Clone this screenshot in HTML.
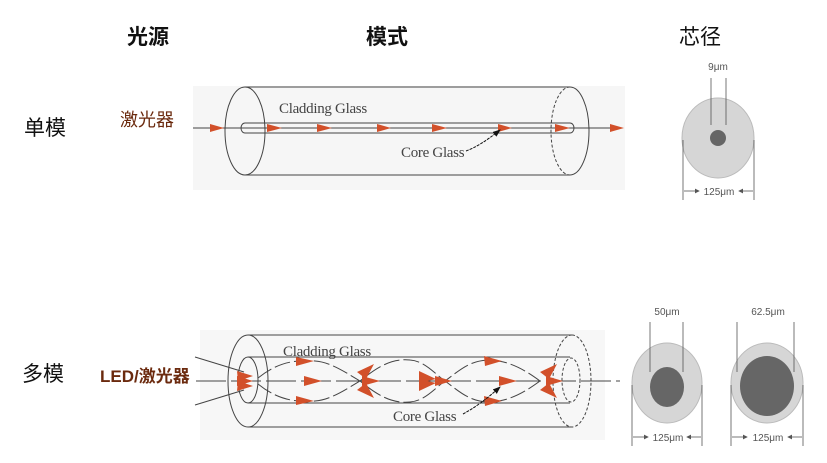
<!DOCTYPE html>
<html><head><meta charset="utf-8"><style>
html,body{margin:0;padding:0;background:#fff;}
svg{display:block;}
.h{font-family:"Liberation Sans","Noto Sans CJK SC",sans-serif;font-size:21px;fill:#111;}
.g{font-family:"Liberation Serif",serif;font-size:15px;fill:#444;letter-spacing:-0.3px;}
.m{font-family:"Liberation Sans",sans-serif;font-size:10px;fill:#555;}
</style></head><body>
<svg width="827" height="463" viewBox="0 0 827 463" xmlns="http://www.w3.org/2000/svg">
<defs>
<marker id="ah" markerWidth="8" markerHeight="6" refX="7" refY="3" orient="auto"><path d="M0,0 L8,3 L0,6z" fill="#111"/></marker>
<marker id="sa" markerWidth="6" markerHeight="6" refX="5" refY="3" orient="auto"><path d="M0,0 L6,3 L0,6z" fill="#555"/></marker>
</defs>
<rect width="827" height="463" fill="#fff"/>
<text class="h" x="127" y="44" font-weight="bold">光源</text>
<text class="h" x="366" y="44" font-weight="bold">模式</text>
<text class="h" x="679" y="44">芯径</text>
<text class="h" x="24" y="135">单模</text>
<text class="h" x="22" y="381">多模</text>
<text x="120" y="126" font-family="Liberation Sans,'Noto Sans CJK SC',sans-serif" font-size="18" fill="#6b2a0e">激光器</text>
<text x="100" y="382" font-family="Liberation Sans,'Noto Sans CJK SC',sans-serif" font-size="17" font-weight="bold" fill="#6b2a0e">LED/激光器</text>

<!-- top fiber -->
<rect x="193" y="86" width="432" height="104" fill="#f6f6f6"/>
<g fill="none" stroke="#444" stroke-width="1">
<ellipse cx="245" cy="131" rx="20" ry="44"/>
<line x1="245" y1="87" x2="570" y2="87"/><line x1="245" y1="175" x2="570" y2="175"/>
<path d="M570,87 A19,44 0 0 1 570,175"/>
<path d="M570,87 A19,44 0 0 0 570,175" stroke-dasharray="3,2"/>
<path d="M245,123 H570 A4,5 0 0 1 570,133 H245 A4,5 0 0 1 245,123z"/>
<line x1="193" y1="128" x2="620" y2="128"/>
</g>
<g fill="#d2502a">
<path d="M210,124 L224,128 L210,132z"/><path d="M267,124 L282,128 L267,132z"/><path d="M317,124 L332,128 L317,132z"/><path d="M377,124 L391,128 L377,132z"/><path d="M432,124 L447,128 L432,132z"/><path d="M498,124 L512,128 L498,132z"/><path d="M555,124 L570,128 L555,132z"/><path d="M610,124 L624,128 L610,132z"/>
</g>
<text class="g" x="279" y="113" style="font-stretch:condensed">Cladding Glass</text>
<text class="g" x="401" y="157">Core Glass</text>
<path d="M466,151 Q480,146 500,130" fill="none" stroke="#111" stroke-dasharray="3,1" marker-end="url(#ah)"/>

<!-- bottom fiber -->
<rect x="200" y="330" width="405" height="110" fill="#f7f7f7"/>
<g fill="none" stroke="#444" stroke-width="1">
<ellipse cx="248" cy="381" rx="20" ry="46"/>
<ellipse cx="248" cy="380" rx="10" ry="23"/>
<line x1="248" y1="335" x2="572" y2="335"/><line x1="248" y1="427" x2="572" y2="427"/>
<line x1="248" y1="357" x2="570" y2="357"/><line x1="248" y1="403" x2="570" y2="403"/>
<path d="M572,335 A19,46 0 0 1 572,427" stroke-dasharray="3,2"/>
<path d="M572,335 A19,46 0 0 0 572,427" stroke-dasharray="3,2"/>
<ellipse cx="571" cy="380" rx="9" ry="22" stroke-dasharray="3,2"/>
<line x1="195" y1="357" x2="244" y2="372"/><line x1="195" y1="405" x2="244" y2="390"/>
<line x1="196" y1="381" x2="620" y2="381" stroke-dasharray="30,5"/>
<path d="M258,378 C280,360 300,360 315,361 C330,362 345,372 360,381 C375,393 390,404 410,402 C425,401 435,388 445,381 C460,370 470,360 490,360 C510,361 525,370 540,381" stroke-dasharray="16,4"/>
<path d="M258,384 C280,402 300,402 315,401 C330,400 345,390 360,381 C375,369 390,358 410,360 C425,361 435,374 445,381 C460,392 470,402 490,402 C510,401 525,392 540,381" stroke-dasharray="16,4"/>
</g>
<g fill="#d2502a">
<path d="M237,371 L253,376 L238,381z"/><path d="M237,376 L253,381 L237,386z"/><path d="M238,381 L253,386 L237,391z"/>
<g transform="translate(0,0)">
<path d="M296,357 L314,361 L296,366z"/><path d="M304,376 L322,381 L304,386z"/><path d="M296,396 L314,401 L296,405z"/>
<path d="M357,372 L374,364 L366,379z"/><path d="M357,390 L374,398 L366,383z"/><path d="M362,376 L380,381 L362,386z"/>
<path d="M419,371 L436,379 L419,383z"/><path d="M419,391 L436,383 L419,379z"/><path d="M435,376 L452,381 L435,386z"/>
<path d="M484,356 L502,361 L485,366z"/><path d="M499,376 L517,381 L499,386z"/><path d="M484,396 L502,401 L485,406z"/>
<path d="M540,372 L557,364 L549,379z"/><path d="M540,390 L557,398 L549,383z"/><path d="M546,376 L563,381 L546,386z"/>
</g>
</g>
<text class="g" x="283" y="356" style="font-stretch:condensed">Cladding Glass</text>
<text class="g" x="393" y="421">Core Glass</text>
<path d="M463,414 Q480,405 500,387" fill="none" stroke="#111" stroke-dasharray="3,1" marker-end="url(#ah)"/>

<!-- single core -->
<ellipse cx="718" cy="138" rx="36" ry="40" fill="#d6d6d6" stroke="#bbb"/>
<circle cx="718" cy="138" r="8" fill="#666"/>
<g stroke="#555" stroke-width="0.8" fill="none">
<line x1="711" y1="78" x2="711" y2="125"/><line x1="726" y1="78" x2="726" y2="125"/>
<line x1="683" y1="140" x2="683" y2="200"/><line x1="754" y1="140" x2="754" y2="200"/>
<line x1="684" y1="191" x2="699" y2="191" marker-end="url(#sa)"/><line x1="753" y1="191" x2="739" y2="191" marker-end="url(#sa)"/>
</g>
<text class="m" x="718" y="70" text-anchor="middle">9μm</text>
<text class="m" x="719" y="195" text-anchor="middle">125μm</text>

<!-- multi cores -->
<ellipse cx="667" cy="383" rx="35" ry="40" fill="#d6d6d6" stroke="#bbb"/>
<ellipse cx="667" cy="387" rx="17" ry="20" fill="#666"/>
<ellipse cx="767" cy="383" rx="36" ry="40" fill="#d6d6d6" stroke="#bbb"/>
<ellipse cx="767" cy="386" rx="27" ry="30" fill="#666"/>
<g stroke="#555" stroke-width="0.8" fill="none">
<line x1="650" y1="322" x2="650" y2="372"/><line x1="683" y1="322" x2="683" y2="372"/>
<line x1="737" y1="322" x2="737" y2="372"/><line x1="794" y1="322" x2="794" y2="372"/>
<line x1="632" y1="385" x2="632" y2="446"/><line x1="702" y1="385" x2="702" y2="446"/>
<line x1="731" y1="385" x2="731" y2="446"/><line x1="803" y1="385" x2="803" y2="446"/>
<line x1="633" y1="437" x2="648" y2="437" marker-end="url(#sa)"/><line x1="701" y1="437" x2="687" y2="437" marker-end="url(#sa)"/>
<line x1="732" y1="437" x2="747" y2="437" marker-end="url(#sa)"/><line x1="802" y1="437" x2="788" y2="437" marker-end="url(#sa)"/>
</g>
<text class="m" x="667" y="315" text-anchor="middle">50μm</text>
<text class="m" x="768" y="315" text-anchor="middle">62.5μm</text>
<text class="m" x="668" y="441" text-anchor="middle">125μm</text>
<text class="m" x="768" y="441" text-anchor="middle">125μm</text>
</svg>
</body></html>
